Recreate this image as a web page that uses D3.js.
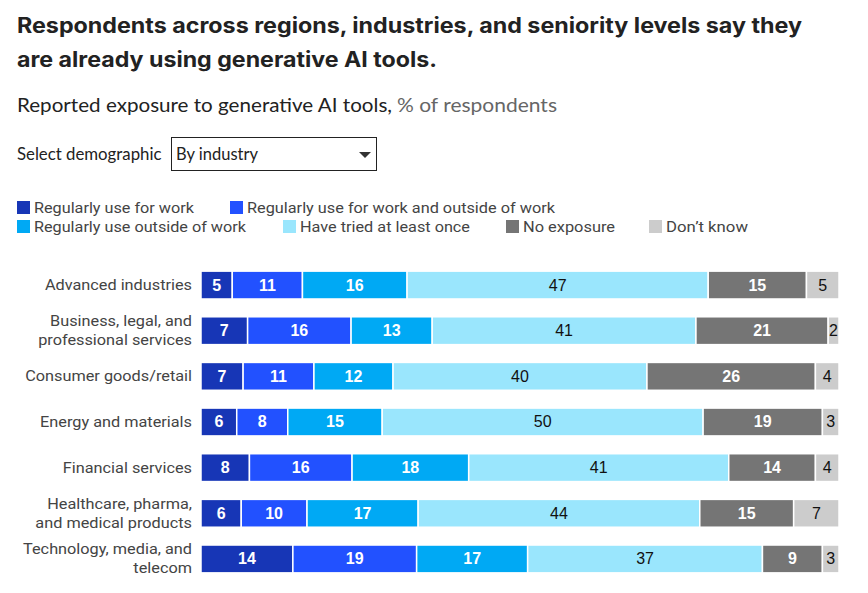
<!DOCTYPE html>
<html><head><meta charset="utf-8">
<script src="https://cdn.jsdelivr.net/npm/d3@7"></script>
<style>body{margin:0;background:#fff;} svg{display:block;}</style>
</head><body><svg id="chart" width="868" height="593"></svg>
<script>
const categories = [
  "Advanced industries",
  "Business, legal, and|professional services",
  "Consumer goods/retail",
  "Energy and materials",
  "Financial services",
  "Healthcare, pharma,|and medical products",
  "Technology, media, and|telecom"
];
const seriesNames = ["Regularly use for work","Regularly use for work and outside of work","Regularly use outside of work","Have tried at least once","No exposure","Don\u2019t know"];
// estimated values (% of respondents); labels show the rounded figure
const useWork        = [4.9, 7.3, 6.6, 5.6, 7.6, 6.3, 14.4];
const useBoth        = [11.0, 16.2, 11.1, 8.0, 16.1, 10.3, 19.4];
const useOutside     = [16.4, 12.7, 12.4, 14.8, 18.3, 17.4, 17.4];
const triedOnce      = [47.2, 41.3, 39.8, 50.3, 40.8, 44.1, 36.8];
const noExposure     = [15.4, 20.7, 26.4, 18.7, 13.6, 14.7, 9.4];
const dontKnow       = [5.1, 1.7, 3.7, 2.6, 3.7, 7.1, 2.6];
const seriesValues = [useWork, useBoth, useOutside, triedOnce, noExposure, dontKnow];
const colors = ["#1736b6","#2251ff","#00a9f4","#9ae6fd","#757575","#cccccc"];
const labelColors = ["#fff","#fff","#fff","#111","#fff","#111"];

const svg = d3.select("#chart");

function fit(sel, w){ sel.attr("textLength", w).attr("lengthAdjust","spacingAndGlyphs"); return sel; }

// Title
fit(svg.append("text").attr("x",17).attr("y",33).attr("font-family","Inter, Lato, sans-serif").attr("font-weight",700).attr("font-size",21).attr("fill","#222")
  .text("Respondents across regions, industries, and seniority levels say they"), 785);
fit(svg.append("text").attr("x",17).attr("y",67).attr("font-family","Inter, Lato, sans-serif").attr("font-weight",700).attr("font-size",21).attr("fill","#222")
  .text("are already using generative AI tools."), 420);

fit(svg.append("text").attr("x",17).attr("y",112).attr("font-family","Lato, sans-serif").attr("font-size",19.5).attr("fill","#222")
  .text("Reported exposure to generative AI tools,"), 375);
fit(svg.append("text").attr("x",397).attr("y",112).attr("font-family","Lato, sans-serif").attr("font-size",19.5).attr("fill","#666")
  .text("% of respondents"), 160);

svg.append("text").attr("x",17).attr("y",160).attr("font-family","Lato, sans-serif").attr("font-size",16.8).attr("fill","#222").text("Select demographic");
svg.append("rect").attr("x",171.5).attr("y",137.5).attr("width",205).attr("height",33).attr("fill","#fff").attr("stroke","#222").attr("stroke-width",1);
svg.append("text").attr("x",176).attr("y",160).attr("font-family","Lato, sans-serif").attr("font-size",16.5).attr("fill","#222").text("By industry");
svg.append("path").attr("d","M359,152 L371,152 L365,158 Z").attr("fill","#333");

// Legend
const legendPos = [[17,207],[230,207],[17,226],[283,226],[506,226],[649,226]];
const legendWidths = [160, 308, 212, 170, 92, 82];
const lg = svg.append("g").selectAll("g").data(seriesNames).join("g")
  .attr("transform",(d,i)=>`translate(${legendPos[i][0]},${legendPos[i][1]})`);
lg.append("rect").attr("x",0).attr("y",-6).attr("width",13).attr("height",13).attr("fill",(d,i)=>colors[i]);
lg.append("text").attr("x",17).attr("y",5.5).attr("font-family","Roboto, sans-serif").attr("font-size",15.5).attr("fill","#444")
  .attr("textLength",(d,i)=>legendWidths[i]).attr("lengthAdjust","spacingAndGlyphs").text(d=>d);

// Bars
const x = d3.scaleLinear().domain([0,1]).range([201,839]);
const y = d3.scaleBand().domain(categories).range([262,582]).paddingInner(0.39).paddingOuter(0.2);

const rows = svg.append("g").selectAll("g").data(categories).join("g")
  .attr("transform",d=>`translate(0,${y(d)})`);

rows.each(function(cat, ri){
  const g = d3.select(this);
  const vals = seriesValues.map(s=>s[ri]);
  const total = d3.sum(vals);
  let cum = 0;
  const segs = vals.map((v,i)=>{ const s={v,i,x0:cum/total,x1:(cum+v)/total}; cum+=v; return s;});
  g.selectAll("rect").data(segs).join("rect")
    .attr("x",d=>x(d.x0)).attr("width",d=>x(d.x1)-x(d.x0))
    .attr("y",0).attr("height",y.bandwidth())
    .attr("fill",d=>colors[d.i]).attr("stroke","#fff").attr("stroke-width",1.5);
  g.selectAll("text.v").data(segs).join("text").attr("class","v")
    .attr("x",d=>(x(d.x0)+x(d.x1))/2).attr("y",y.bandwidth()/2+5.5)
    .attr("text-anchor","middle").attr("font-family","'Liberation Sans', Arial, sans-serif")
    .attr("font-size",16).attr("font-weight",d=>labelColors[d.i]==="#fff"?700:400)
    .attr("fill",d=>labelColors[d.i]).text(d=>Math.round(d.v));
  const lines = cat.split("|");
  const mid = y.bandwidth()/2;
  lines.forEach((l,k)=>{
    const t = g.append("text").attr("x",192).attr("y", mid + 5 + (k - (lines.length-1)/2)*19)
      .attr("text-anchor","end").attr("font-family","Roboto, sans-serif").attr("font-size",15.5).attr("fill","#444").text(l);
    const w = t.node().getComputedTextLength();
    t.attr("textLength", w*1.05).attr("lengthAdjust","spacingAndGlyphs");
  });
});
</script></body></html>
